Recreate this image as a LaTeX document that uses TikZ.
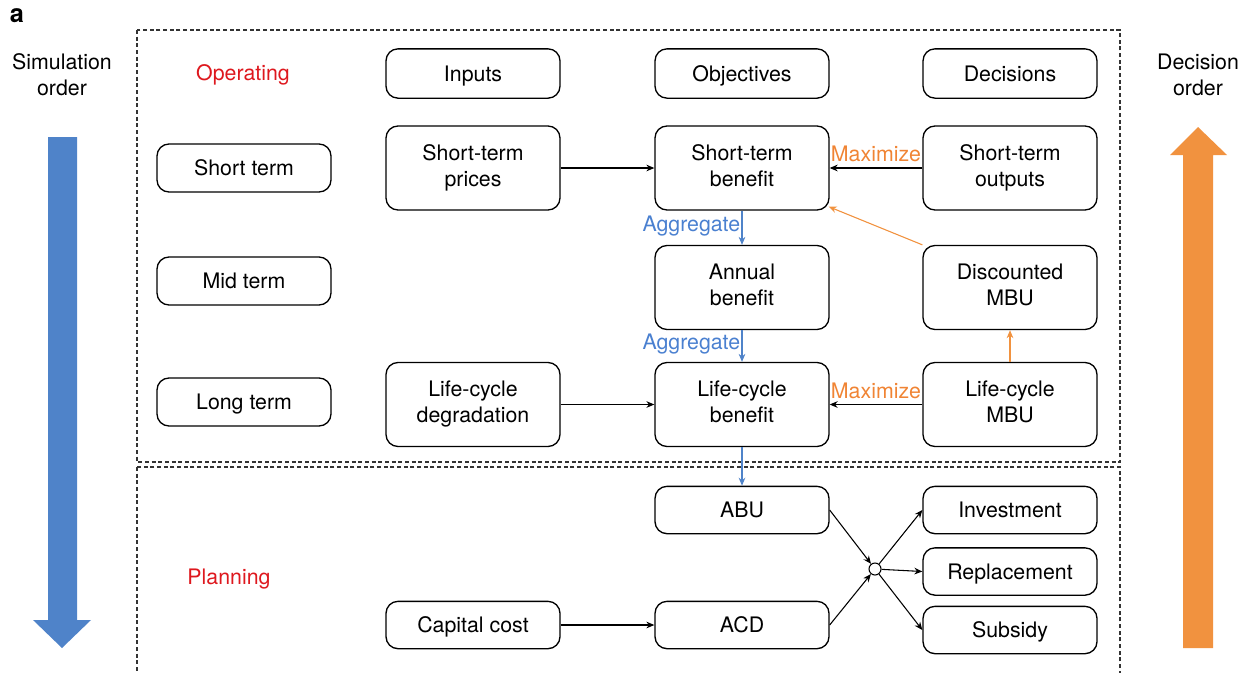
\documentclass[tikz,border=0pt]{standalone}
\usepackage{fontspec}
\setmainfont{TeX Gyre Heros}
\usetikzlibrary{arrows.meta,calc}
\definecolor{sblue}{RGB}{79,131,201}
\definecolor{sorange}{RGB}{241,146,63}
\definecolor{tblue}{RGB}{74,128,208}
\definecolor{torange}{RGB}{240,132,52}
\definecolor{tred}{RGB}{222,24,30}
\newcommand{\mystrut}{\rule[-3.5pt]{0pt}{18.5pt}}
\tikzset{
  box/.style={draw, line width=1pt, rounded corners=9pt, minimum width=130.5pt, align=center, inner sep=0pt, font=\fontsize{16}{19.5}\selectfont, execute at begin node=\mystrut, execute at end node=\mystrut},
  sbox/.style={box, minimum height=35.5pt},
  tbox/.style={box, minimum height=63pt},
  lbl/.style={font=\fontsize{16}{19.5}\selectfont, align=center, inner sep=0pt},
  sect/.style={lbl, text=tred, execute at begin node=\mystrut},
  conn/.style={line width=0.8pt, -{Stealth[length=6pt,width=5pt]}},
  bconn/.style={conn, draw=sblue, fill=sblue},
  oconn/.style={conn, draw=sorange, fill=sorange},
  frame/.style={line width=1pt, dash pattern=on 3pt off 2pt, draw=black!80},
}
\begin{document}
\begin{tikzpicture}[x=0.75pt,y=-0.75pt]
\useasboundingbox (0,0) rectangle (1252,672);
% frames
\draw[frame] (137,30) rectangle (1120,462);
\draw[frame] (137,467) rectangle (1120,676);
% label a
\node[font=\fontsize{19}{21}\selectfont\bfseries, inner sep=0pt] (lab) at (17,16) {a};
% side texts
\node[lbl] (sim) at (62,75) {Simulation\\order};
\node[lbl] (dec) at (1198,75) {Decision\\order};
% big arrows
\fill[sblue] (48,137) -- (77,137) -- (77,620) -- (91,620) -- (62,648) -- (33,620) -- (48,620) -- cycle;
\fill[sorange] (1183,648) -- (1213,648) -- (1213,155) -- (1227,155) -- (1198,127) -- (1170,155) -- (1183,155) -- cycle;
% section labels
\node[sect] (op) at (243,73) {Operating};
\node[sect] (pl) at (229,577) {Planning};
% column 1
\node[sbox, minimum height=36pt] (st) at (244,168) {Short term};
\node[sbox, minimum height=36pt] (mt) at (244,281) {Mid term};
\node[sbox, minimum height=36pt] (lt) at (244,402) {Long term};
% headers
\node[sbox, minimum height=37pt] (inp) at (473,73.5) {Inputs};
\node[sbox, minimum height=37pt] (obj) at (742,73.5) {Objectives};
\node[sbox, minimum height=37pt] (dcs) at (1010,73.5) {Decisions};
% row 1
\node[tbox] (stp) at (473,168) {Short-term\\prices};
\node[tbox] (stb) at (742,168) {Short-term\\benefit};
\node[tbox] (sto) at (1010,168) {Short-term\\outputs};
% row 2
\node[tbox] (ab) at (742,287.5) {Annual\\benefit};
\node[tbox] (dm) at (1010,287.5) {Discounted\\MBU};
% row 3
\node[tbox] (lcd) at (473,404.5) {Life-cycle\\degradation};
\node[tbox] (lcb) at (742,404.5) {Life-cycle\\benefit};
\node[tbox] (lcm) at (1010,404.5) {Life-cycle\\MBU};
% planning
\node[sbox] (abu) at (742,510) {ABU};
\node[sbox] (acd) at (742,625) {ACD};
\node[sbox] (cc) at (473,625) {Capital cost};
\node[sbox] (inv) at (1010,510) {Investment};
\node[sbox] (rep) at (1010,571.5) {Replacement};
\node[sbox] (sub) at (1010,630) {Subsidy};
\node[circle, draw, line width=0.8pt, minimum size=9pt, inner sep=0pt] (hub) at (875,569) {};
% connectors
\draw[conn] (stp) -- (stb);
\draw[conn] (sto) -- node[lbl, text=torange, above=4pt, pos=0.5] (mx1) {Maximize} (stb);
\draw[oconn] (dm.north west) -- ($(stb.south east)+(-1,-4)$);
\draw[bconn] (stb) -- node[lbl, text=tblue, left=1pt, pos=0.45] (ag1) {Aggregate} (ab);
\draw[bconn] (ab) -- node[lbl, text=tblue, left=1pt, pos=0.45] (ag2) {Aggregate} (lcb);
\draw[conn] (lcd) -- (lcb);
\draw[conn] (lcm) -- node[lbl, text=torange, above=4pt, pos=0.5] (mx2) {Maximize} (lcb);
\draw[oconn] (lcm) -- (dm);
\draw[bconn] (lcb) -- (abu);
\draw[conn] (cc) -- (acd);
\draw[conn] (abu.east) -- (hub);
\draw[conn] (acd.east) -- (hub);
\draw[conn] (hub) -- (inv.west);
\draw[conn] (hub) -- (rep.west);
\draw[conn] (hub) -- (sub.west);
\end{tikzpicture}
\end{document}
